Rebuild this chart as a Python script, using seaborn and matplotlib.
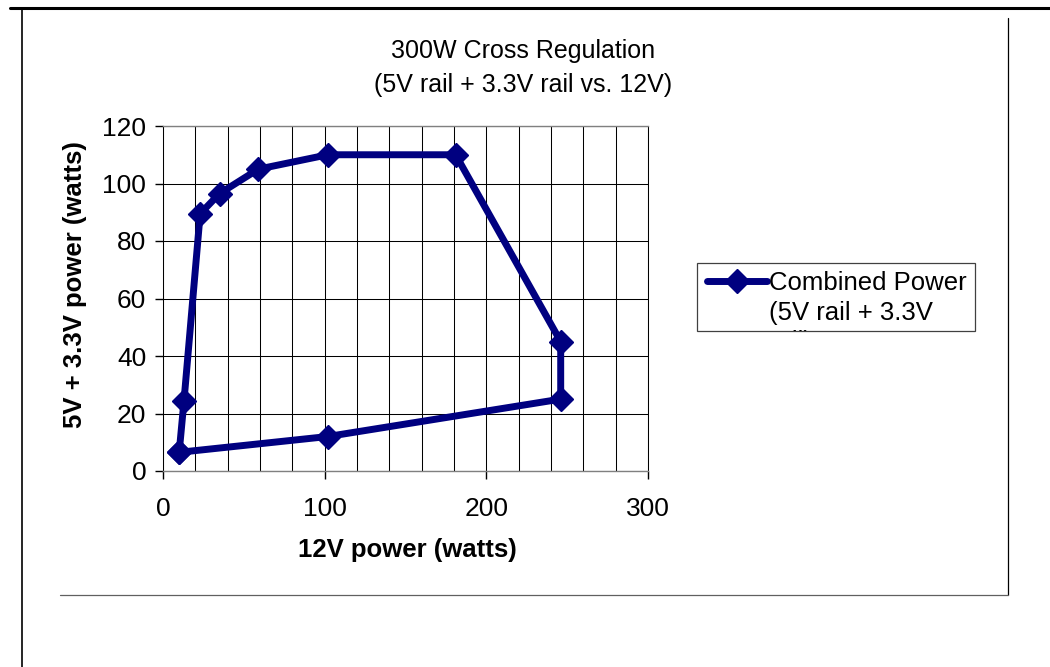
import numpy as np
import pandas as pd
import seaborn as sns
import matplotlib.pyplot as plt
from matplotlib.lines import Line2D
from matplotlib.patches import Rectangle
from matplotlib.transforms import Bbox, TransformedBbox

# Cross-regulation envelope, traced in order around the boundary
power_12v = [10, 13, 23, 35, 59, 102, 181, 246, 246, 102, 10]
power_5v_33v = [6.5, 24.5, 89.5, 96.5, 105, 110, 110, 45, 25, 12, 6.5]

x_ticks = [0, 100, 200, 300]
x_grid = list(range(20, 301, 20))
y_ticks = [0, 20, 40, 60, 80, 100, 120]

title_text = "300W Cross Regulation\n(5V rail + 3.3V rail vs. 12V)"
x_label = "12V power (watts)"
y_label = "5V + 3.3V power (watts)"
legend_lines = ["Combined Power", "(5V rail + 3.3V", "rail)"]

NAVY = "#000080"
W, H = 1050, 667

sns.set_theme(style="white")
plt.rcParams["font.family"] = ["Liberation Sans", "DejaVu Sans"]
plt.rcParams["text.color"] = "black"
plt.rcParams["axes.labelcolor"] = "black"
plt.rcParams["xtick.color"] = "black"
plt.rcParams["ytick.color"] = "black"


def fx(px):
    return px / W


def fy(py):
    return 1 - py / H


fig = plt.figure(figsize=(W / 100, H / 100), dpi=100)
fig.patch.set_facecolor("white")

ax = fig.add_axes([fx(163), fy(471), fx(648) - fx(163), fy(126) - fy(471)])

df = pd.DataFrame({"p12": power_12v, "p5": power_5v_33v})
sns.lineplot(data=df, x="p12", y="p5", sort=False, estimator=None, ax=ax,
             color=NAVY, linewidth=5, marker="D", markersize=12,
             markeredgecolor=NAVY, markeredgewidth=1, zorder=5, clip_on=False)

ax.set_xlim(0, 300)
ax.set_ylim(0, 120)
ax.set_xticks(x_ticks)
ax.set_xticks(x_grid, minor=True)
ax.set_yticks(y_ticks)
ax.tick_params(axis="x", which="major", direction="out", length=6, width=1,
               color="black", labelsize=19, pad=13, bottom=True)
ax.tick_params(axis="x", which="minor", length=0)
ax.tick_params(axis="y", which="major", direction="out", length=6, width=1,
               color="black", labelsize=19, pad=6, left=True)
ax.grid(True, which="both", axis="x", color="black", linewidth=0.75)
ax.grid(True, which="major", axis="y", color="black", linewidth=0.75)
ax.set_axisbelow(True)

for side in ("left", "right"):
    ax.spines[side].set_color("black")
    ax.spines[side].set_linewidth(0.75)
for side in ("top", "bottom"):
    ax.spines[side].set_color("#808080")
    ax.spines[side].set_linewidth(1)

ax.set_xlabel(x_label, fontsize=18.5, fontweight="bold", va="center")
ax.xaxis.set_label_coords((407 - 163) / 485, (471 - 550) / 345)
ax.set_ylabel(y_label, fontsize=18.5, fontweight="bold", va="center")
ax.yaxis.set_label_coords((75 - 163) / 485, 0.54)

fig.suptitle(title_text, x=fx(523), y=fy(39), va="top", ha="center",
             fontsize=18, linespacing=1.55)

# Legend: handle + first label line, wrapped text clipped by the frame
handle = Line2D([], [], color=NAVY, linewidth=5, marker="D", markersize=12,
                markeredgecolor=NAVY)
ax.legend(handles=[handle], labels=[legend_lines[0]], loc="upper left",
          bbox_to_anchor=(fx(707), fy(271)), bbox_transform=fig.transFigure,
          frameon=False, fontsize=18.5, borderpad=0, borderaxespad=0,
          handlelength=2.33, handletextpad=0.08)

box = (697, 263, 975, 331)
fig.add_artist(Rectangle((fx(box[0]), fy(box[3])), fx(box[2]) - fx(box[0]),
                         fy(box[1]) - fy(box[3]), transform=fig.transFigure,
                         fill=False, edgecolor="#404040", linewidth=0.9))
clip = TransformedBbox(Bbox([[fx(box[0]), fy(box[3])], [fx(box[2]), fy(box[1])]]),
                       fig.transFigure)
for i, line in enumerate(legend_lines[1:]):
    t = fig.text(fx(769), fy(320 + 29 * i), line, fontsize=18.5, va="baseline",
                 ha="left")
    t.set_clip_box(clip)
    t.set_clip_on(True)

# Page and chart-area borders
fig.add_artist(Line2D([fx(10), 1], [fy(8), fy(8)], color="black", linewidth=2.2,
                      transform=fig.transFigure))
fig.add_artist(Line2D([fx(22), fx(22)], [0, fy(8)], color="black", linewidth=1.2,
                      transform=fig.transFigure))
fig.add_artist(Line2D([fx(1008), fx(1008)], [fy(595), fy(18)], color="black",
                      linewidth=0.9, transform=fig.transFigure))
fig.add_artist(Line2D([fx(60), fx(1008)], [fy(595), fy(595)], color="#606060",
                      linewidth=0.9, transform=fig.transFigure))

fig.savefig("out.png", dpi=100, facecolor="white")
